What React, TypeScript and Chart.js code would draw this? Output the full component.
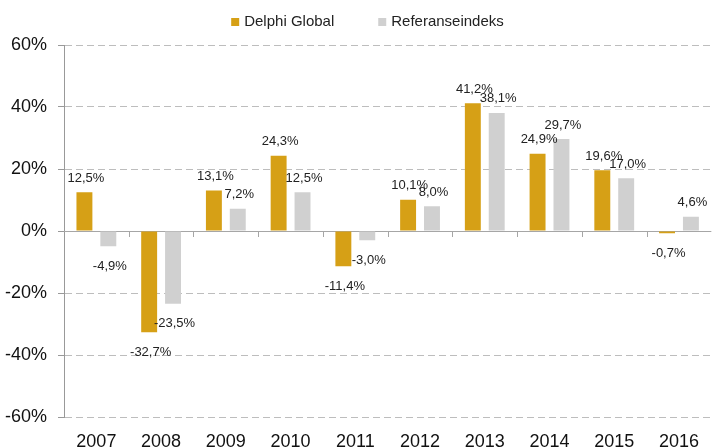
import React, { useEffect, useRef } from 'react';
import { Chart, registerables } from 'chart.js';
Chart.register(...registerables);

const categories = ['2007', '2008', '2009', '2010', '2011', '2012', '2013', '2014', '2015', '2016'];
const delphiGlobal = [12.5, -32.7, 13.1, 24.3, -11.4, 10.1, 41.2, 24.9, 19.6, -0.7];
const referanseindeks = [-4.9, -23.5, 7.2, 12.5, -3.0, 8.0, 38.1, 29.7, 17.0, 4.6];
const seriesNames = ['Delphi Global', 'Referanseindeks'];
const seriesColors = ['#D6A016', '#D0D0D0'];
const yMin = -60;
const yMax = 60;
const yStep = 20;

const FONT = '"Liberation Sans", Arial, sans-serif';

const fmt = (v: number) => v.toFixed(1).replace('.', ',') + '%';

const zeroLinePlugin = {
  id: 'zeroLine',
  beforeDatasetsDraw(chart: any) {
    const { ctx, chartArea, scales } = chart;
    const y0 = scales.y.getPixelForValue(0);
    const xs = scales.x;
    const n = categories.length;
    const w = (chartArea.right - chartArea.left) / n;
    ctx.save();
    ctx.strokeStyle = '#A6A6A6';
    ctx.lineWidth = 1;
    ctx.setLineDash([]);
    ctx.beginPath();
    ctx.moveTo(chartArea.left, Math.round(y0) + 0.5);
    ctx.lineTo(chartArea.right, Math.round(y0) + 0.5);
    for (let i = 1; i < n; i++) {
      const x = Math.round(xs.left + i * w) + 0.5;
      ctx.moveTo(x, Math.round(y0));
      ctx.lineTo(x, Math.round(y0) + 6);
    }
    ctx.stroke();
    ctx.restore();
  },
};

const dataLabelPlugin = {
  id: 'dataLabels',
  afterDatasetsDraw(chart: any) {
    const { ctx } = chart;
    ctx.save();
    ctx.font = `13px ${FONT}`;
    ctx.fillStyle = '#222';
    ctx.textAlign = 'center';
    ctx.textBaseline = 'middle';
    chart.data.datasets.forEach((ds: any, di: number) => {
      const meta = chart.getDatasetMeta(di);
      meta.data.forEach((el: any, i: number) => {
        const v = ds.data[i];
        const y = v >= 0 ? el.y - 14 : el.y + 20;
        ctx.fillText(fmt(v), el.x + 1.5, y);
      });
    });
    ctx.restore();
  },
};

const legendPlugin = {
  id: 'customLegend',
  afterDraw(chart: any) {
    const { ctx } = chart;
    ctx.save();
    ctx.font = `15px ${FONT}`;
    ctx.textBaseline = 'middle';
    const box = 8;
    const gapBoxText = 5;
    const gapItems = 44;
    const widths = seriesNames.map((s) => box + gapBoxText + ctx.measureText(s).width);
    const total = widths.reduce((a, b) => a + b, 0) + gapItems * (seriesNames.length - 1);
    let x = chart.width / 2 + 11 - total / 2;
    const yc = 22;
    seriesNames.forEach((name, i) => {
      ctx.fillStyle = seriesColors[i];
      ctx.fillRect(x, yc - box / 2, box, box);
      ctx.fillStyle = '#222';
      ctx.fillText(name, x + box + gapBoxText, yc);
      x += widths[i] + gapItems;
    });
    ctx.restore();
  },
};

export default function App() {
  const ref = useRef<HTMLCanvasElement>(null);
  useEffect(() => {
    document.body.style.margin = '0';
    const chart = new Chart(ref.current!, {
      type: 'bar',
      data: {
        labels: categories,
        datasets: [
          {
            label: seriesNames[0],
            data: delphiGlobal,
            backgroundColor: seriesColors[0],
            categoryPercentage: 0.738,
            barPercentage: 0.667,
          },
          {
            label: seriesNames[1],
            data: referanseindeks,
            backgroundColor: seriesColors[1],
            categoryPercentage: 0.738,
            barPercentage: 0.667,
          },
        ],
      },
      options: {
        animation: false,
        responsive: true,
        maintainAspectRatio: false,
        layout: { padding: { top: 45, right: 0, bottom: 0, left: 0 } },
        plugins: {
          legend: { display: false },
          tooltip: { enabled: false },
        },
        scales: {
          x: {
            grid: { display: false, drawTicks: false },
            border: { display: false },
            ticks: { font: { family: FONT, size: 18 }, color: '#111', padding: 14 },
            afterFit(scale: any) {
              scale.height = 30;
            },
          },
          y: {
            min: yMin,
            max: yMax,
            ticks: {
              stepSize: yStep,
              font: { family: FONT, size: 18 },
              color: '#111',
              padding: 11,
              callback: (v: any) => v + '%',
            },
            grid: {
              color: '#BDBDBD',
              tickBorderDash: [],
              tickColor: '#999',
              tickLength: 6,
              drawTicks: true,
            },
            border: { display: true, color: '#999', width: 1, dash: [7, 4] },
            afterFit(scale: any) {
              scale.width = 64;
            },
          },
        },
      } as any,
      plugins: [zeroLinePlugin, dataLabelPlugin, legendPlugin],
    });
    return () => chart.destroy();
  }, []);
  return (
    <div style={{ width: 713, height: 447, position: 'relative' }}>
      <canvas ref={ref} />
    </div>
  );
}
